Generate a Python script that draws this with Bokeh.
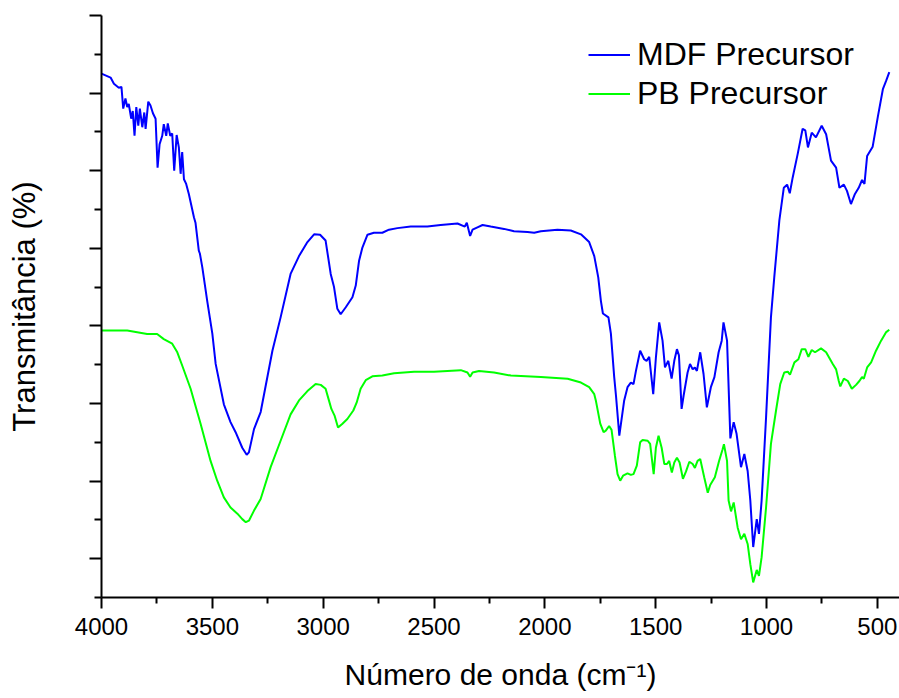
from bokeh.plotting import figure
from bokeh.models import Range1d, FixedTicker, Legend, LegendItem, CustomJSTickFormatter
from bokeh.embed import file_html
from bokeh.resources import INLINE

# ---- data (wavenumber cm^-1, transmittance offset units) ----
mdf_wn = [4000, 3959, 3944, 3922, 3910, 3902, 3892, 3884, 3877, 3866, 3859, 3851, 3843, 3834, 3827,
          3816, 3807, 3801, 3789, 3779, 3768, 3756, 3747, 3738, 3726, 3719, 3708, 3701, 3690, 3681,
          3672, 3661, 3651, 3643, 3636, 3628, 3618, 3606, 3583, 3576, 3561, 3556, 3545, 3523, 3500,
          3485, 3448, 3418, 3395, 3365, 3345, 3335, 3312, 3282, 3229, 3192, 3147, 3109, 3071, 3041,
          3014, 2989, 2966, 2951, 2936, 2921, 2898, 2868, 2853, 2838, 2823, 2800, 2771, 2733, 2703,
          2665, 2605, 2530, 2470, 2394, 2361, 2352, 2337, 2326, 2304, 2281, 2244, 2184, 2139, 2078,
          2048, 2018, 1943, 1883, 1837, 1800, 1777, 1759, 1747, 1738, 1713, 1702, 1687, 1679, 1664,
          1642, 1627, 1612, 1600, 1589, 1570, 1552, 1541, 1529, 1511, 1499, 1484, 1469, 1458, 1443,
          1428, 1416, 1404, 1395, 1383, 1374, 1356, 1345, 1333, 1323, 1314, 1299, 1284, 1269, 1251,
          1235, 1216, 1202, 1194, 1178, 1163, 1148, 1135, 1115, 1100, 1085, 1073, 1060, 1044, 1034,
          1022, 1002, 980, 965, 942, 922, 907, 895, 882, 859, 837, 825, 813, 796, 777,
          751, 731, 709, 686, 671, 651, 637, 619, 601, 584, 569, 558, 546, 521, 498,
          475, 460, 446]
mdf_t = [62.5, 62.0, 61.2, 60.7, 60.8, 58.0, 59.3, 58.2, 58.6, 56.7, 57.7, 54.5, 58.2, 55.8, 58.0,
         55.6, 57.5, 55.4, 58.9, 58.4, 57.4, 56.7, 50.4, 53.4, 54.5, 56.0, 54.5, 56.1, 54.5, 54.8,
         50.0, 54.6, 53.0, 49.6, 52.4, 48.9, 48.3, 47.0, 44.0, 43.3, 39.7, 39.3, 37.5, 33.2, 29.0,
         25.1, 19.9, 17.6, 16.3, 14.3, 13.4, 13.7, 16.7, 18.9, 26.8, 31.1, 36.7, 39.0, 40.8, 41.8,
         41.75, 41.0, 36.7, 35.0, 32.2, 31.5, 32.4, 33.7, 35.2, 38.4, 40.1, 41.75, 42.0, 42.0, 42.4,
         42.6, 42.8, 42.8, 43.0, 43.2, 42.8, 43.3, 41.6, 42.4, 42.7, 43.0, 42.8, 42.5, 42.2, 42.1,
         42.0, 42.2, 42.4, 42.3, 41.8, 40.8, 39.0, 36.25, 33.2, 31.6, 31.1, 29.0, 23.4, 21.0, 15.85,
         20.4, 22.1, 22.7, 22.5, 24.2, 26.8, 25.7, 25.5, 26.0, 21.2, 25.9, 30.45, 28.1, 24.65, 25.5,
         23.2, 25.5, 27.0, 26.2, 19.3, 21.0, 24.0, 25.1, 24.4, 24.65, 24.2, 26.6, 23.8, 19.5, 22.1,
         23.4, 26.6, 28.1, 30.45, 28.1, 15.5, 17.6, 16.1, 11.8, 13.5, 11.3, 7.5, 1.5, 5.1, 3.2,
         7.5, 18.2, 31.1, 36.25, 43.6, 47.8, 48.2, 47.1, 49.1, 52.2, 55.4, 55.2, 53.0, 54.9, 54.3,
         55.8, 54.7, 51.3, 50.4, 47.8, 48.2, 47.4, 45.7, 47.0, 47.8, 48.8, 48.3, 51.9, 53.1, 56.9,
         60.5, 61.6, 62.7]

pb_wn = [4000, 3884, 3794, 3749, 3719, 3681, 3658, 3636, 3598, 3553, 3508, 3478, 3448, 3418, 3387,
         3365, 3349, 3335, 3312, 3282, 3237, 3192, 3147, 3109, 3071, 3034, 3011, 2989, 2974, 2963,
         2948, 2933, 2913, 2891, 2864, 2849, 2831, 2808, 2778, 2733, 2680, 2590, 2500, 2379, 2349,
         2337, 2326, 2297, 2229, 2153, 2018, 1897, 1837, 1800, 1777, 1770, 1750, 1735, 1725, 1710,
         1699, 1684, 1672, 1660, 1647, 1627, 1612, 1600, 1585, 1570, 1559, 1536, 1525, 1509, 1499,
         1487, 1473, 1461, 1449, 1439, 1427, 1416, 1404, 1392, 1377, 1363, 1348, 1333, 1323, 1311,
         1299, 1281, 1265, 1254, 1233, 1214, 1198, 1192, 1178, 1171, 1160, 1148, 1130, 1115, 1100,
         1085, 1073, 1060, 1044, 1034, 1022, 1002, 980, 957, 938, 920, 904, 894, 874, 856,
         841, 825, 811, 796, 781, 754, 731, 701, 686, 674, 667, 651, 633, 615, 596,
         581, 569, 561, 546, 528, 506, 483, 460, 446]
pb_t = [29.4, 29.4, 28.95, 28.95, 28.3, 27.7, 26.6, 24.9, 21.9, 17.4, 12.6, 10.05, 7.9, 6.6, 5.8,
        5.1, 4.7, 4.9, 6.2, 7.7, 11.8, 15.2, 18.6, 20.4, 21.6, 22.5, 22.4, 21.9, 20.4, 19.3,
        18.4, 16.9, 17.4, 18.0, 19.1, 20.1, 21.9, 23.0, 23.5, 23.6, 23.9, 24.1, 24.1, 24.3, 24.0,
        23.45, 24.0, 24.2, 24.0, 23.6, 23.4, 23.2, 22.7, 22.1, 21.2, 20.4, 17.4, 16.3, 16.5, 17.1,
        16.6, 13.3, 10.9, 10.05, 10.7, 11.0, 10.8, 10.9, 12.0, 15.0, 15.3, 15.2, 14.8, 10.9, 14.3,
        15.85, 14.3, 12.2, 12.2, 12.6, 11.1, 12.4, 13.0, 12.4, 10.3, 11.25, 12.5, 12.2, 11.7, 12.6,
        12.85, 10.5, 8.5, 9.5, 10.5, 12.6, 14.1, 14.75, 12.6, 7.5, 6.1, 7.25, 4.0, 2.5, 3.2,
        1.9, -0.7, -3.05, -1.45, -2.2, 0.2, 6.6, 14.8, 19.1, 22.5, 24.0, 24.1, 23.7, 25.3, 25.7,
        27.0, 27.0, 26.0, 26.9, 26.6, 27.1, 26.6, 25.1, 24.4, 22.9, 22.2, 23.2, 22.9, 21.9, 22.4,
        22.9, 23.4, 23.2, 24.65, 25.3, 26.8, 28.1, 29.2, 29.5]

series_labels = ["MDF Precursor", "PB Precursor"]
x_title = "Número de onda (cm⁻¹)"
y_title = "Transmitância (%)"
x_major = [4000, 3500, 3000, 2500, 2000, 1500, 1000, 500]
x_minor = [3750, 3250, 2750, 2250, 1750, 1250, 750]
y_major = [0, 10, 20, 30, 40, 50, 60, 70]
y_minor = [-5, 5, 15, 25, 35, 45, 55, 65]

FONT = "Liberation Sans"

p = figure(width=899, height=698, output_backend="svg", toolbar_location=None,
           x_range=Range1d(4000, 400), y_range=Range1d(-5, 70),
           min_border_left=101, min_border_right=0, min_border_top=15, min_border_bottom=101)
p.outline_line_color = None
p.grid.visible = False
p.background_fill_color = "white"
p.border_fill_color = "white"

l1 = p.line(mdf_wn, mdf_t, line_color="#0000FF", line_width=2)
l2 = p.line(pb_wn, pb_t, line_color="#00FF00", line_width=2)

# x axis
xa = p.xaxis[0]
xa.ticker = FixedTicker(ticks=x_major, minor_ticks=x_minor)
xa.axis_line_width = 2
xa.major_tick_line_width = 2
xa.minor_tick_line_width = 2
xa.major_tick_in = 0
xa.major_tick_out = 11
xa.minor_tick_in = 0
xa.minor_tick_out = 6
xa.major_label_text_font = FONT
xa.major_label_text_font_size = "24px"
xa.major_label_text_color = "black"
xa.major_label_standoff = 9
xa.axis_label = x_title
xa.axis_label_text_font = FONT
xa.axis_label_text_font_size = "30px"
xa.axis_label_text_font_style = "normal"
xa.axis_label_text_color = "black"
xa.axis_label_standoff = 20

# y axis
ya = p.yaxis[0]
ya.ticker = FixedTicker(ticks=y_major, minor_ticks=y_minor)
ya.axis_line_width = 2
ya.major_tick_line_width = 2
ya.minor_tick_line_width = 2
ya.major_tick_in = 0
ya.major_tick_out = 12
ya.minor_tick_in = 0
ya.minor_tick_out = 7
ya.formatter = CustomJSTickFormatter(code="return ''")
ya.axis_label = y_title
ya.axis_label_text_font = FONT
ya.axis_label_text_font_size = "31px"
ya.axis_label_text_font_style = "normal"
ya.axis_label_text_color = "black"
ya.axis_label_standoff = 48

legend = Legend(items=[LegendItem(label=series_labels[0], renderers=[l1]),
                       LegendItem(label=series_labels[1], renderers=[l2])],
                location=(487, 484), orientation="vertical",
                glyph_width=42, glyph_height=39, label_height=39, label_standoff=7,
                spacing=0, padding=0, margin=0,
                label_text_font=FONT, label_text_font_size="32px", label_text_color="black",
                border_line_color=None, background_fill_alpha=0)
p.add_layout(legend, "center")

open("out.html", "w").write(file_html(p, INLINE))
